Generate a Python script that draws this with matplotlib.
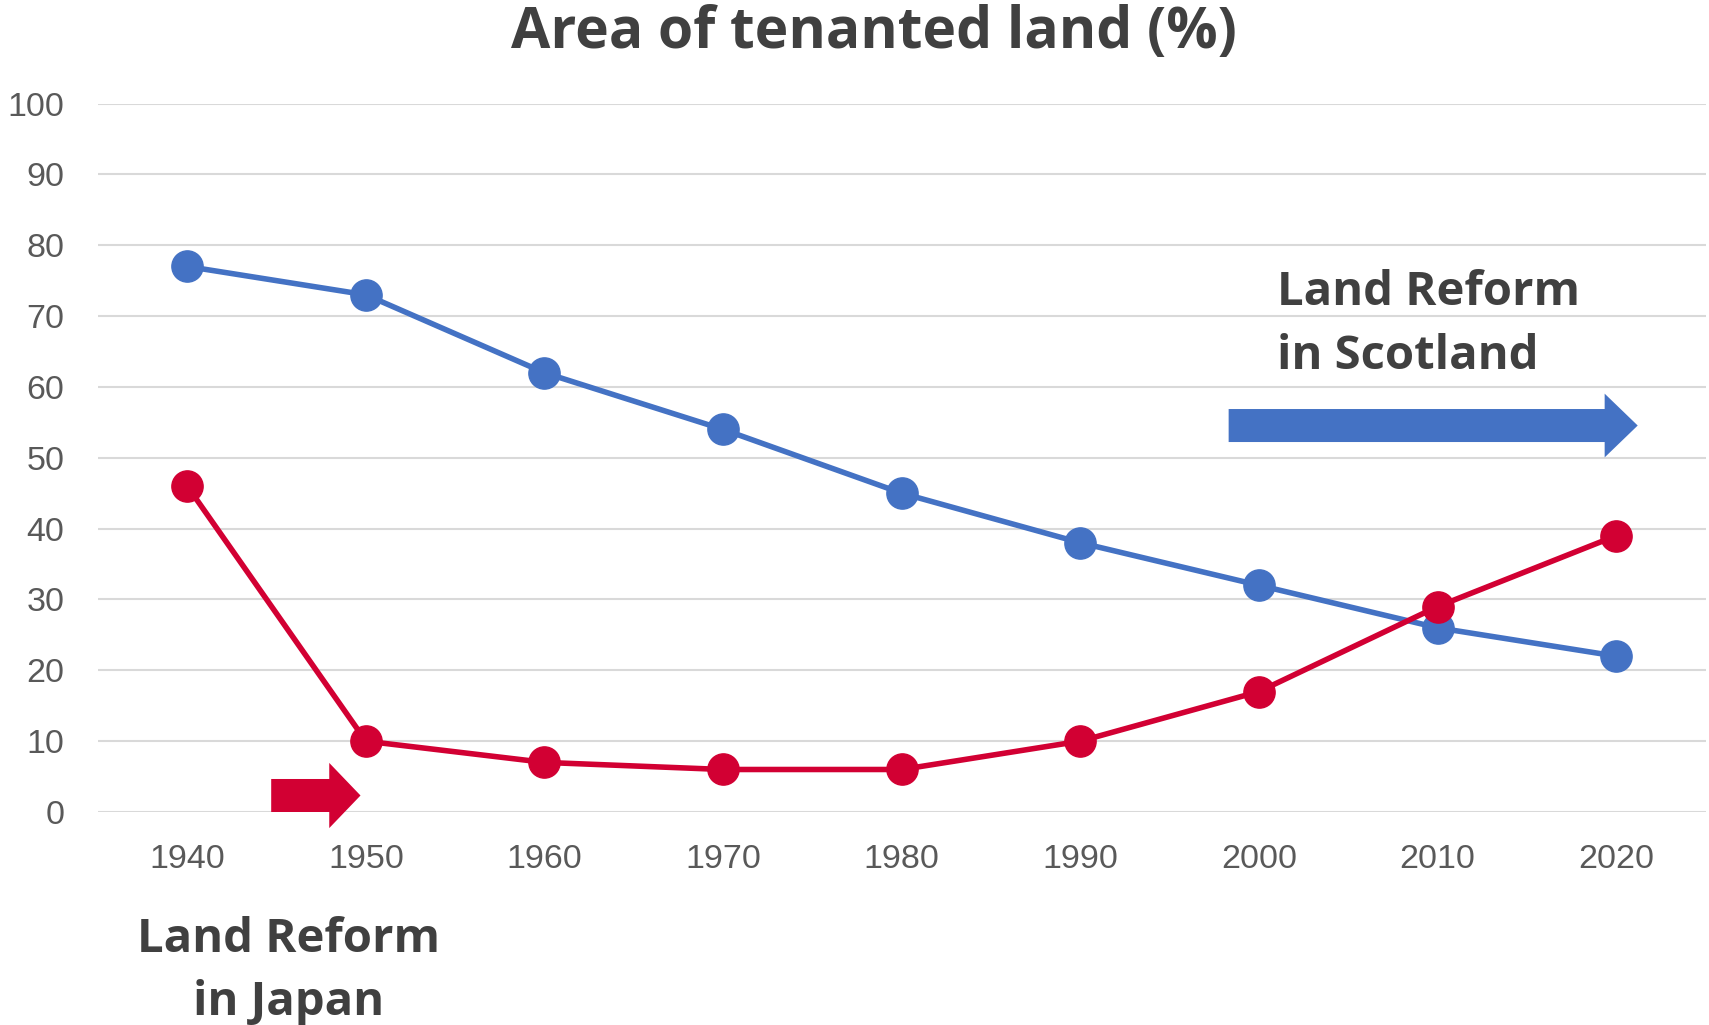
import matplotlib.pyplot as plt

# data
years = [1940, 1950, 1960, 1970, 1980, 1990, 2000, 2010, 2020]
scotland = [77, 73, 62, 54, 45, 38, 32, 26, 22]
japan = [46, 10, 7, 6, 6, 10, 17, 29, 39]
y_ticks = [0, 10, 20, 30, 40, 50, 60, 70, 80, 90, 100]

BLUE = '#4472C4'
RED = '#D20033'
DARK = '#404040'
GREY = '#595959'

plt.rcParams['font.family'] = ['Open Sans', 'DejaVu Sans']

fig = plt.figure(figsize=(17.09, 10.25), dpi=100)
ax = fig.add_axes([0.0573, 0.2078, 0.9407, 0.6912])

ax.plot(years, scotland, color=BLUE, lw=4.0, marker='o', ms=22.5, zorder=3)
ax.plot(years, japan, color=RED, lw=4.0, marker='o', ms=22.5, zorder=4)

ax.set_xlim(1935, 2025)
ax.set_ylim(0, 100)
ax.set_xticks(years)
ax.set_yticks(y_ticks)
ax.tick_params(axis='both', length=0, labelsize=24.5, labelcolor=GREY)
ax.tick_params(axis='x', pad=23)
ax.tick_params(axis='y', pad=24)
for lbl in ax.get_xticklabels() + ax.get_yticklabels():
    lbl.set_fontfamily(['Liberation Sans', 'DejaVu Sans'])
ax.grid(axis='y', color='#D9D9D9', lw=1.5)
ax.set_axisbelow(True)
for s in ax.spines.values():
    s.set_visible(False)

# reform arrows
ax.arrow(1944.7, 2.33, 5.0, 0, width=4.66, head_width=9.2, head_length=1.75,
         length_includes_head=True, color=RED, lw=0, clip_on=False, zorder=2)
ax.arrow(1998.3, 54.55, 22.9, 0, width=4.66, head_width=9.0, head_length=1.85,
         length_includes_head=True, color=BLUE, lw=0, clip_on=False, zorder=2)

fig.text(0.5115, 0.953, 'Area of tenanted land (%)', ha='center', va='baseline',
         fontsize=41, fontweight='bold', color=DARK)

note = dict(fontsize=34, fontweight='bold', color=DARK, va='baseline')
fig.text(0.7473, 0.7024, 'Land Reform', ha='left', **note)
fig.text(0.7473, 0.640, 'in Scotland', ha='left', **note)
fig.text(0.169, 0.0712, 'Land Reform', ha='center', **note)
fig.text(0.169, 0.0098, 'in Japan', ha='center', **note)

fig.savefig('out.png', dpi=100, facecolor='white')
